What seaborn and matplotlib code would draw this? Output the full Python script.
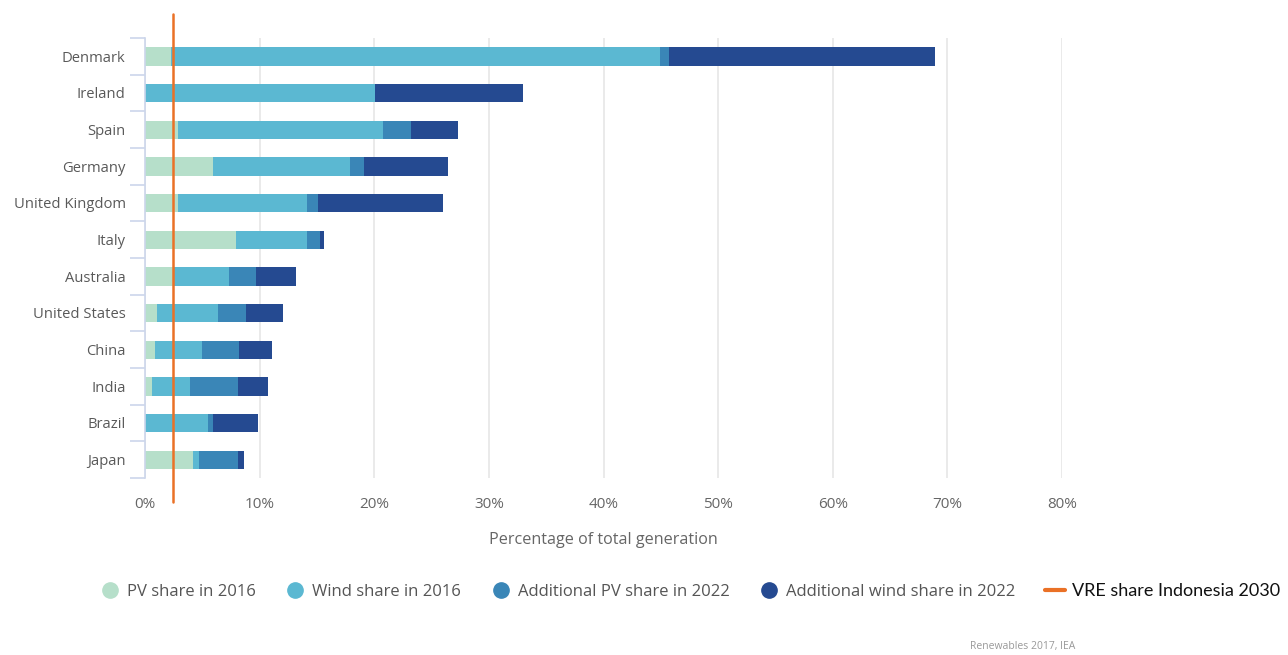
import numpy as np
import pandas as pd
import matplotlib
matplotlib.use("Agg")
import matplotlib.pyplot as plt
from matplotlib.lines import Line2D
import seaborn as sns

countries = ["Denmark", "Ireland", "Spain", "Germany", "United Kingdom", "Italy",
             "Australia", "United States", "China", "India", "Brazil", "Japan"]
pv_2016 = [2.3, 0.0, 2.9, 5.9, 2.9, 7.9, 2.5, 1.05, 0.9, 0.6, 0.0, 4.2]
wind_2016 = [42.6, 20.1, 17.9, 12.0, 11.2, 6.2, 4.8, 5.35, 4.1, 3.35, 5.5, 0.5]
add_pv_2022 = [0.85, 0.0, 2.4, 1.2, 1.0, 1.2, 2.4, 2.4, 3.2, 4.15, 0.4, 3.4]
add_wind_2022 = [23.15, 12.9, 4.1, 7.3, 10.9, 0.3, 3.5, 3.2, 2.85, 2.6, 4.0, 0.5]
vre_share_indonesia_2030 = 2.4
x_ticks = [0, 10, 20, 30, 40, 50, 60, 70, 80]
series_labels = ["PV share in 2016", "Wind share in 2016",
                 "Additional PV share in 2022", "Additional wind share in 2022"]
line_label = "VRE share Indonesia 2030"

colors = ["#b6dfca", "#5bb8d2", "#3a86b7", "#254a91"]
orange = "#ea7126"

df = pd.DataFrame({"country": countries, "pv": pv_2016, "wind": wind_2016,
                   "apv": add_pv_2022, "awind": add_wind_2022})
df["c1"] = df["pv"]
df["c2"] = df["c1"] + df["wind"]
df["c3"] = df["c2"] + df["apv"]
df["c4"] = df["c3"] + df["awind"]

sns.set_theme(style="white")
plt.rcParams["font.family"] = ["Open Sans", "DejaVu Sans"]

fig = plt.figure(figsize=(12.88, 6.55), dpi=100)
ax = fig.add_axes([145 / 1288, 1 - 478 / 655, (1062 - 145) / 1288, (478 - 38) / 655])

for col, c in zip(["c4", "c3", "c2", "c1"], colors[::-1]):
    sns.barplot(data=df, x=col, y="country", color=c, width=0.5, orient="h",
                ax=ax, saturation=1, edgecolor="none", zorder=3)

n = len(countries)
ax.set_xlim(0, 80)
ax.set_ylim(n - 0.5, -0.5)
ax.set_xticks(x_ticks)
ax.set_xticklabels([f"{t}%" for t in x_ticks])
ax.grid(axis="x", color="#e6e6e6", linewidth=1.2, zorder=0)
ax.grid(axis="y", visible=False)
ax.set_axisbelow(True)

for s in ["top", "right", "bottom"]:
    ax.spines[s].set_visible(False)
ax.spines["left"].set_color("#ccd6eb")
ax.spines["left"].set_linewidth(1.2)
ax.spines["left"].set_zorder(5)

ax.set_yticks(np.arange(-0.5, n, 1.0), minor=True)
ax.tick_params(axis="y", which="minor", length=11, width=1.2, color="#ccd6eb", left=True)
ax.tick_params(axis="y", which="major", length=0, pad=14, labelsize=10.6, labelcolor="#595959")
ax.tick_params(axis="x", which="major", length=0, pad=14, labelsize=11, labelcolor="#666666")

ax.set_xlabel("Percentage of total generation", fontsize=11.6, color="#666666", labelpad=14)
ax.set_ylabel("")

ax.axvline(vre_share_indonesia_2030, ymin=-0.055, ymax=1.055, color=orange,
           linewidth=1.8, clip_on=False, zorder=6)

handles = [Line2D([], [], marker="o", linestyle="none", markersize=11,
                  markerfacecolor=c, markeredgecolor=c) for c in colors]
handles.append(Line2D([], [], color=orange, linewidth=3))
leg = fig.legend(handles, series_labels + [line_label], loc="center",
                 bbox_to_anchor=(690 / 1288, 1 - 591 / 655), ncol=5, frameon=False,
                 fontsize=12, handlelength=1.2, handletextpad=0.4, columnspacing=1.8)
for t in leg.get_texts()[:4]:
    t.set_color("#555555")
leg.get_texts()[-1].set_color("#111111")
leg.get_texts()[-1].set_fontfamily(["Lato", "DejaVu Sans"])
leg.get_texts()[-1].set_fontsize(13)

fig.text(1075 / 1288, 1 - 647 / 655, "Renewables 2017, IEA", ha="right", va="center",
         fontsize=7.5, color="#999999")

fig.savefig("out.png", dpi=100, facecolor="white")
